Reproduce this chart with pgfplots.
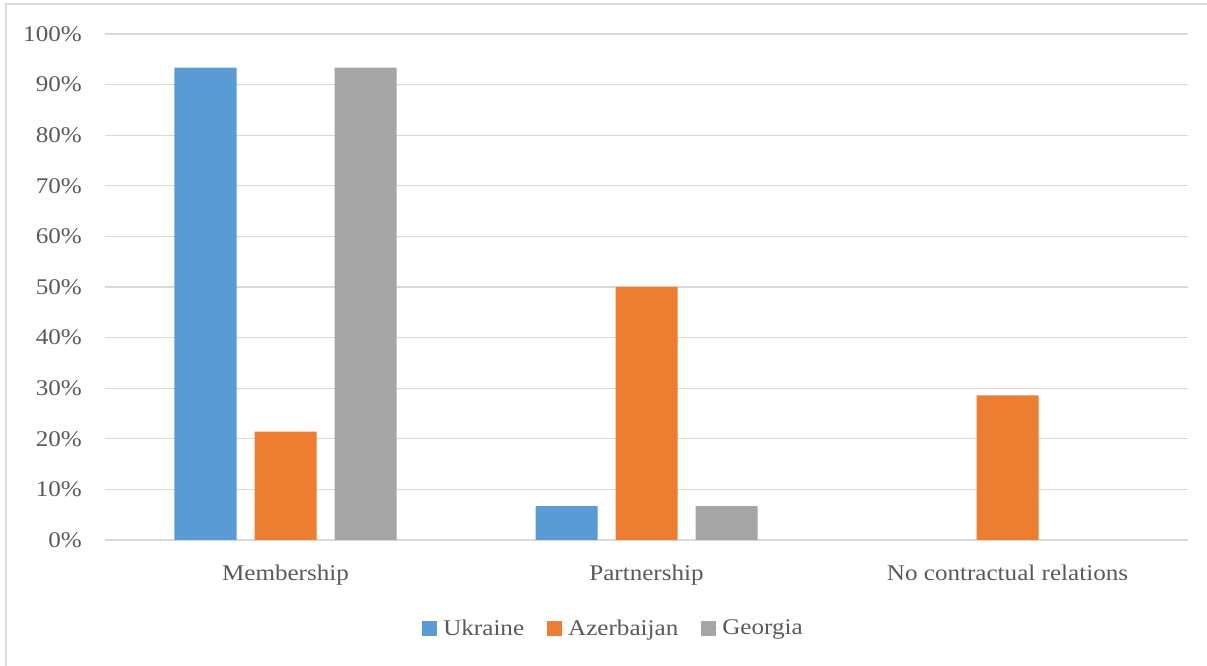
\documentclass[border=0pt]{standalone}
\usepackage{fontspec}
\setmainfont[FakeStretch=1.12]{Liberation Serif}
\usepackage{pgfplots}
\pgfplotsset{compat=1.18}

\definecolor{ukr}{HTML}{5B9BD5}
\definecolor{aze}{HTML}{ED7D31}
\definecolor{geo}{HTML}{A5A5A5}
\definecolor{gridc}{HTML}{D9D9D9}
\definecolor{txt}{HTML}{595959}

\begin{document}
\begin{tikzpicture}
\useasboundingbox (0,0) rectangle (1207bp,666bp);
% chart frame (left and top edges)
\draw[gridc, line width=1.2bp] (6bp,-2bp) -- (6bp,662bp) -- (1210bp,662bp);
\begin{axis}[
  at={(105bp,126bp)}, anchor=south west,
  scale only axis,
  width=1083bp, height=506bp,
  xmin=-0.5, xmax=2.5,
  ymin=0, ymax=100,
  ybar=18bp, bar width=62bp,
  xtick={0,1,2},
  xticklabels={Membership,Partnership,No contractual relations},
  ytick={0,10,...,100},
  yticklabels={0\%,10\%,20\%,30\%,40\%,50\%,60\%,70\%,80\%,90\%,100\%},
  major tick length=0pt,
  axis line style={draw=none},
  ymajorgrids,
  major grid style={gridc, line width=1.3bp},
  tick label style={font=\fontsize{22.5}{26}\selectfont, text=txt, inner sep=0pt},
  yticklabel style={anchor=east, xshift=-23bp},
  xticklabel style={anchor=north, yshift=-25bp},
  legend columns=3,
  legend style={at={(0.47,-0.174)}, anchor=center, draw=none,
    font=\fontsize{22.5}{26}\selectfont, text=txt,
    /tikz/every even column/.append style={column sep=20bp},
    nodes={inner sep=3bp}},
  legend image code/.code={\fill[#1] (0bp,-7.5bp) rectangle (15bp,7.5bp);
    \path (0bp,0bp) -- (18bp,0bp);},
]
\addplot[fill=ukr, draw=none] coordinates {(0,93.33) (1,6.67)};
\addplot[fill=aze, draw=none] coordinates {(0,21.43) (1,50.0) (2,28.57)};
\addplot[fill=geo, draw=none] coordinates {(0,93.33) (1,6.67)};
\legend{Ukraine,Azerbaijan,Georgia}
\end{axis}
\end{tikzpicture}
\end{document}
